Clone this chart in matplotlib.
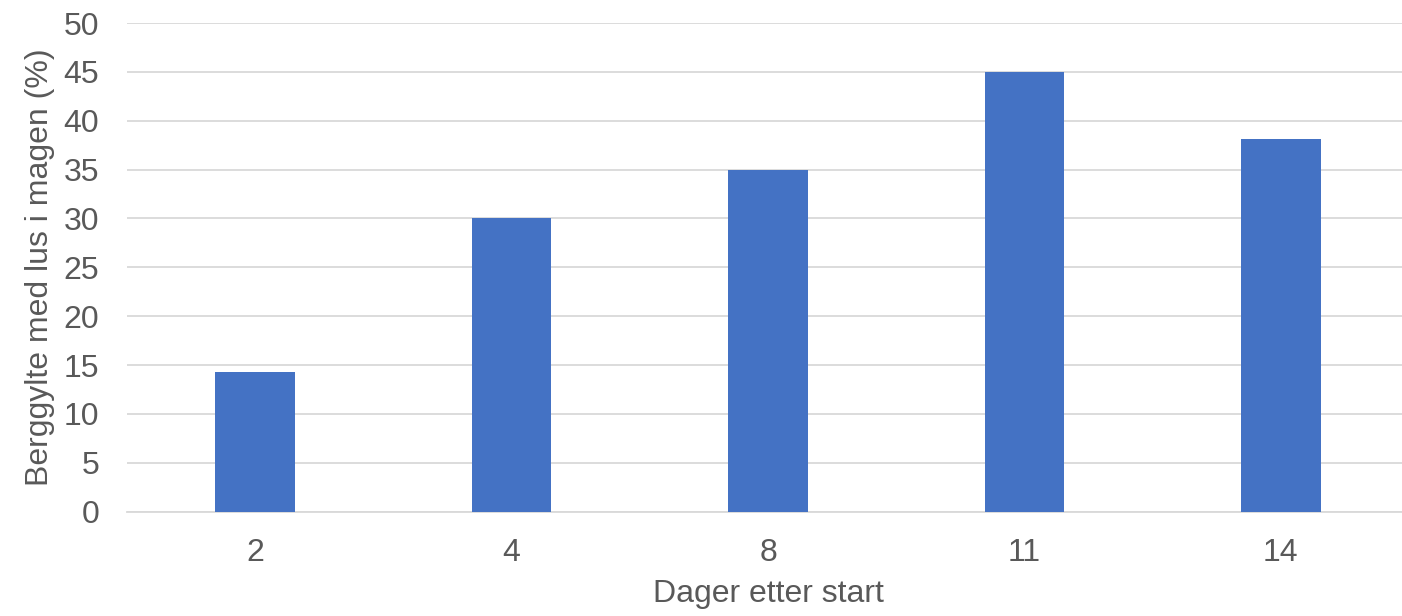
import matplotlib.pyplot as plt

days = ["2", "4", "8", "11", "14"]
percent = [14.3, 30.0, 35.0, 45.0, 38.1]

plt.rcParams["font.family"] = ["Liberation Sans", "DejaVu Sans"]
text_color = "#595959"

fig = plt.figure(figsize=(14.02, 6.16), dpi=100)
ax = fig.add_axes([127 / 1402, 104.3 / 616, 1282 / 1402, 488.7 / 616])

x = range(len(days))
ax.bar(x, percent, width=0.31, color="#4472C4", zorder=3)

ax.set_xlim(-0.5, len(days) - 0.5)
ax.set_ylim(0, 50)
ax.set_yticks(range(0, 51, 5))
ax.set_xticks(list(x))
ax.set_xticklabels(days)

ax.grid(axis="y", color="#d9d9d9", linewidth=1.3, zorder=0)
for side in ["top", "right", "left"]:
    ax.spines[side].set_visible(False)
ax.spines["bottom"].set_color("#d9d9d9")
ax.spines["bottom"].set_linewidth(1.3)

ax.tick_params(axis="both", length=0, labelsize=23, colors=text_color)
ax.tick_params(axis="y", pad=20)
ax.tick_params(axis="x", pad=19)

ax.set_xlabel("Dager etter start", fontsize=23, color=text_color, labelpad=8)
ax.set_ylabel("Berggylte med lus i magen (%)", fontsize=23, color=text_color, labelpad=6)

fig.savefig("out.png", dpi=100)
